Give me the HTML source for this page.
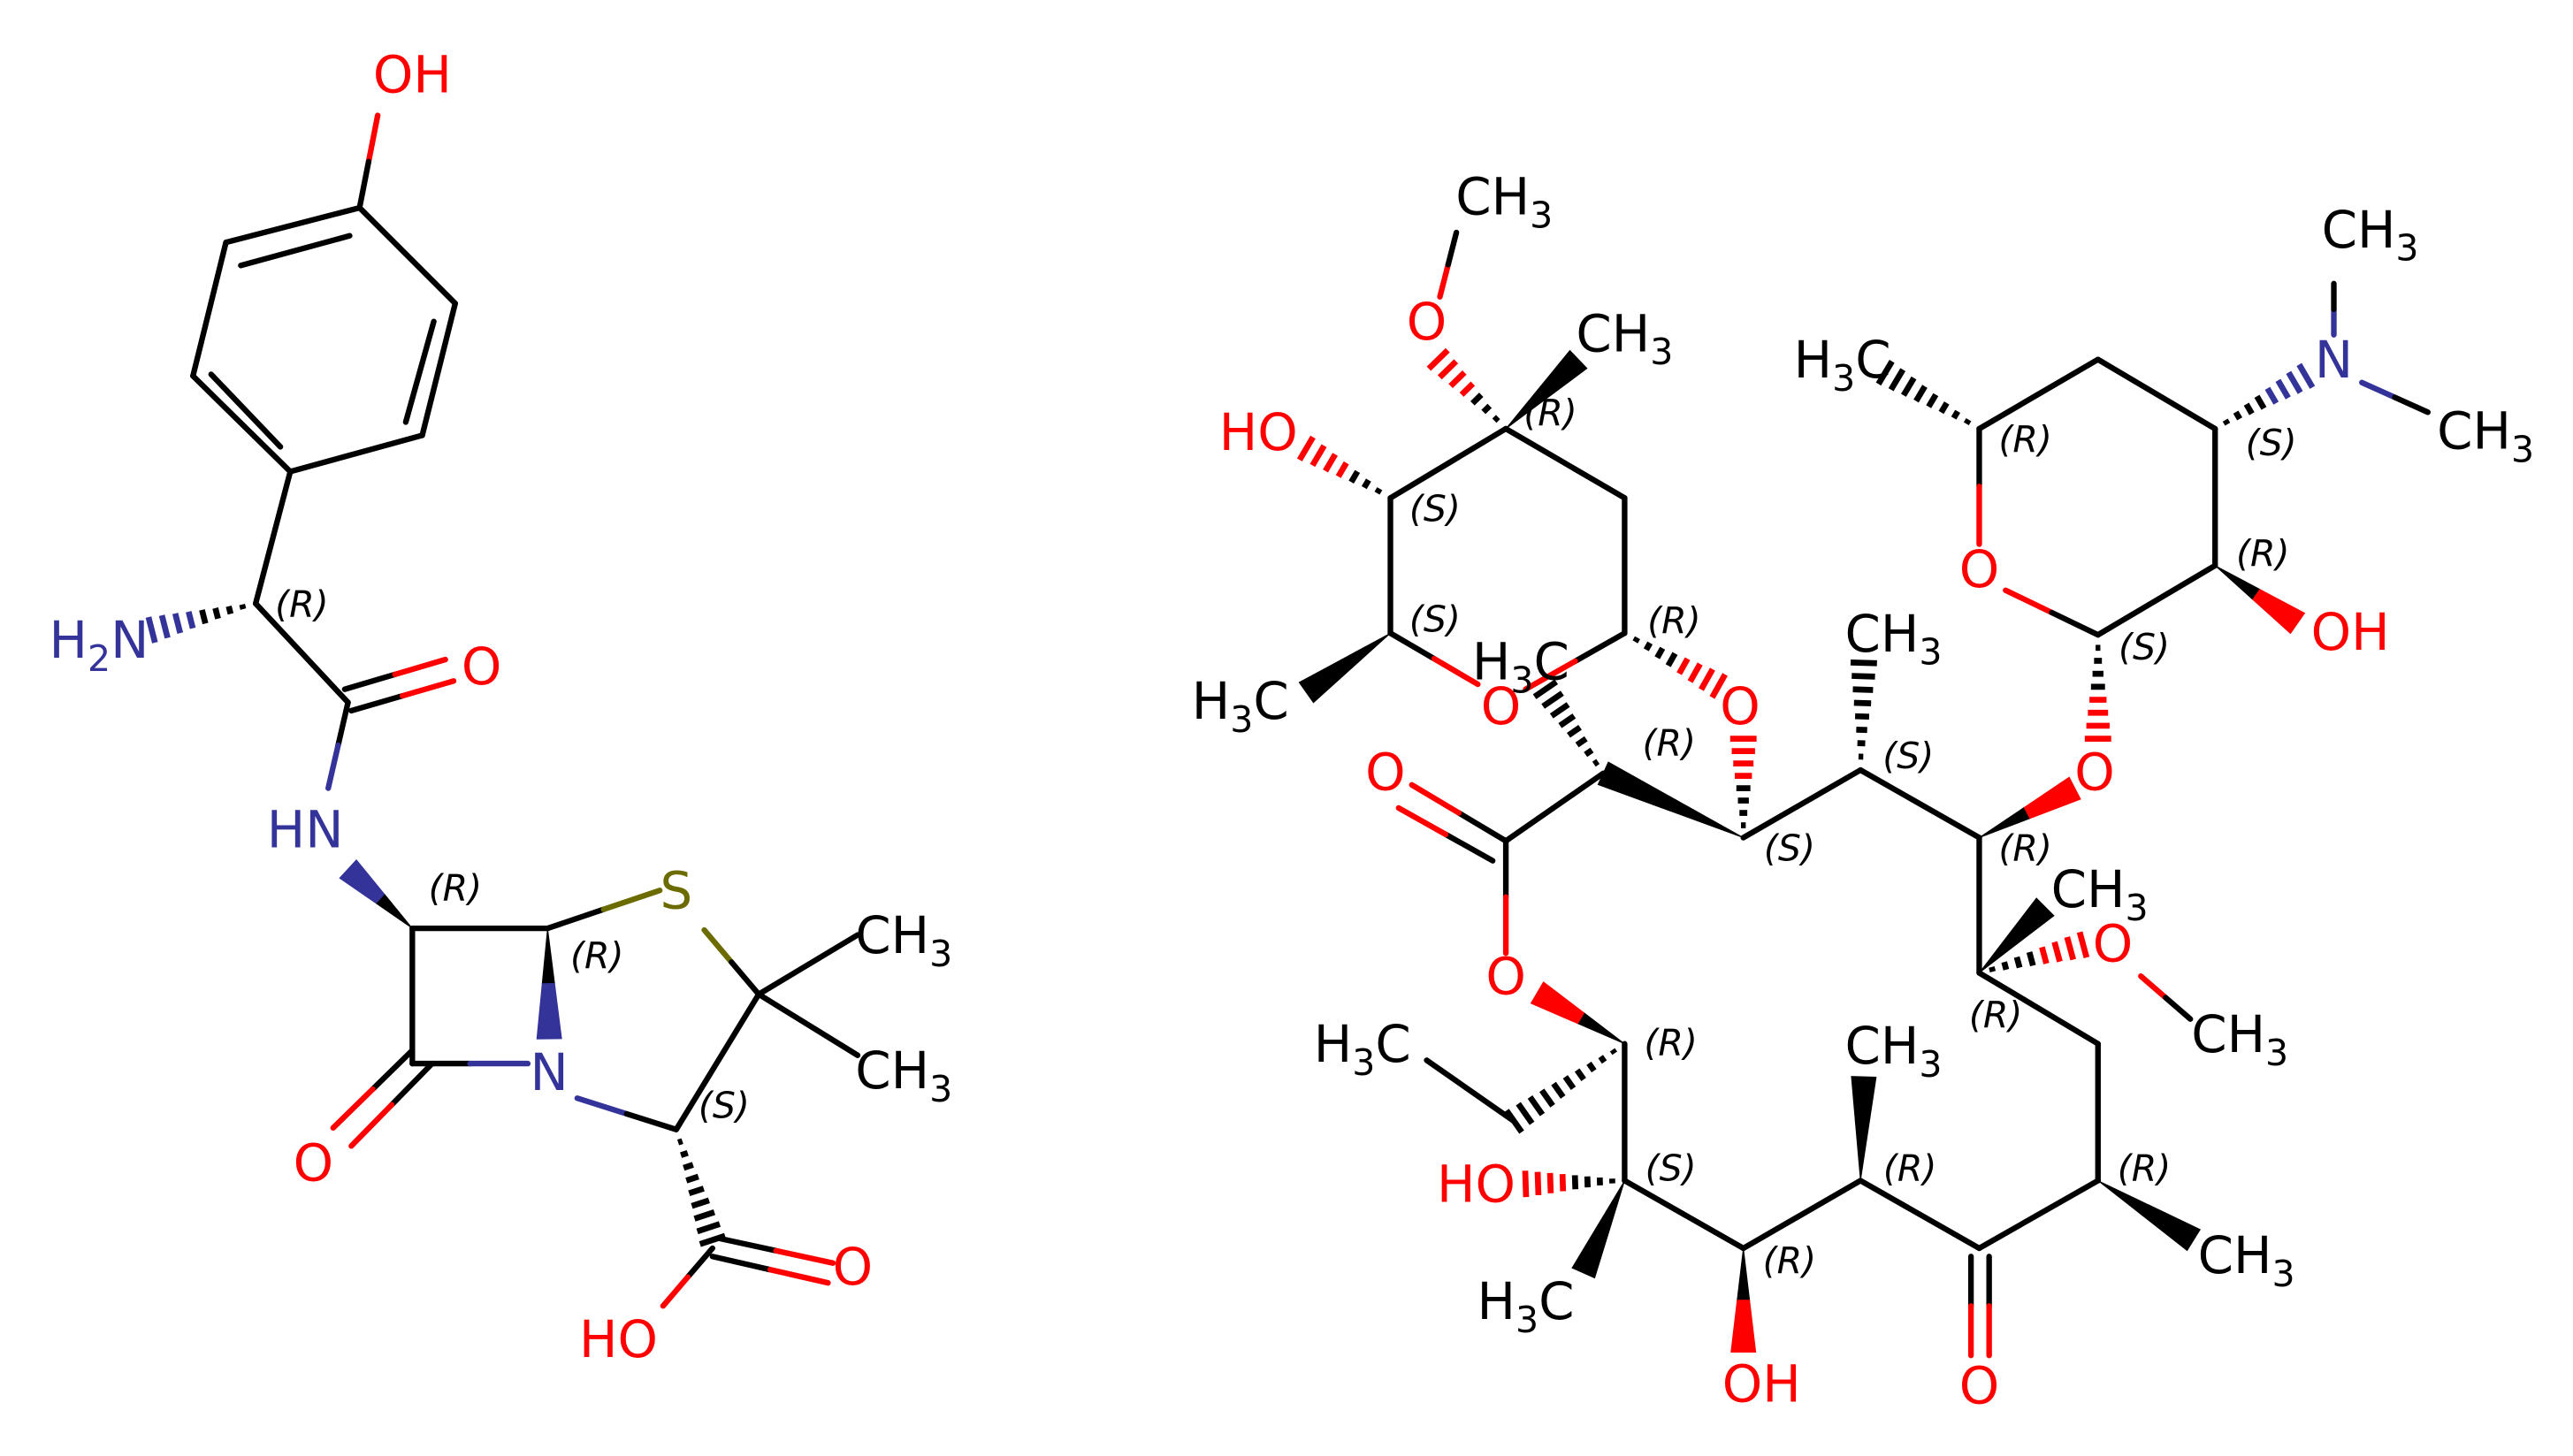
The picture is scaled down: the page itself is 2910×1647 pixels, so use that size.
<!DOCTYPE html>
<html><head><meta charset="utf-8"><style>
html,body{margin:0;padding:0;background:#fff;}
svg{display:block;}
text{font-family:"DejaVu Sans","Liberation Sans",sans-serif;}
.a{font-size:31px;text-anchor:middle;}
.s{font-size:22px;font-style:italic;text-anchor:middle;fill:#000;}
</style></head><body>
<svg id="m" width="2910" height="1647" viewBox="0 0 1560 883" preserveAspectRatio="none" xmlns="http://www.w3.org/2000/svg">
<g id="b" stroke-width="3.4" stroke-linecap="round" fill="none"></g>
<g id="w"></g>
<!-- left labels -->
<text class="a" x="250" y="56" fill="#f00">OH</text>
<text class="a" x="60" y="399" fill="#33339a">H<tspan font-size="22" dy="8">2</tspan><tspan dy="-8">N</tspan></text>
<text class="s" x="183" y="374">(R)</text>
<text class="a" x="292" y="415" fill="#f00">O</text>
<text class="a" x="185" y="514" fill="#33339a">HN</text>
<text class="s" x="276" y="546">(R)</text>
<text class="a" x="410" y="551" fill="#6b6b00">S</text>
<text class="s" x="362" y="587">(R)</text>
<text class="a" x="333" y="661" fill="#33339a">N</text>
<text class="a" x="190" y="716" fill="#f00">O</text>
<text class="a" x="548" y="578" fill="#000">CH<tspan font-size="22" dy="8">3</tspan></text>
<text class="a" x="548" y="660" fill="#000">CH<tspan font-size="22" dy="8">3</tspan></text>
<text class="s" x="439" y="678">(S)</text>
<text class="a" x="517" y="779" fill="#f00">O</text>
<text class="a" x="375" y="823" fill="#f00">HO</text>
<!-- right labels -->
<text class="a" x="912" y="130" fill="#000">CH<tspan font-size="22" dy="8">3</tspan></text>
<text class="a" x="865" y="206" fill="#f00">O</text>
<text class="a" x="985" y="213" fill="#000">CH<tspan font-size="22" dy="8">3</tspan></text>
<text class="s" x="940" y="258">(R)</text>
<text class="a" x="763" y="273" fill="#f00">HO</text>
<text class="s" x="870" y="316">(S)</text>
<text class="s" x="870" y="383">(S)</text>
<text class="s" x="1015" y="384">(R)</text>
<text class="a" x="752" y="436" fill="#000">H<tspan font-size="22" dy="8">3</tspan><tspan dy="-8">C</tspan></text>
<text class="a" x="910" y="439" fill="#f00">O</text>
<text class="a" x="922" y="412" fill="#000">H<tspan font-size="22" dy="8">3</tspan><tspan dy="-8">C</tspan></text>
<text class="a" x="1055" y="439" fill="#f00">O</text>
<text class="s" x="1012" y="458">(R)</text>
<text class="a" x="1148" y="395" fill="#000">CH<tspan font-size="22" dy="8">3</tspan></text>
<text class="s" x="1085" y="522">(S)</text>
<text class="s" x="1157" y="466">(S)</text>
<text class="a" x="840" y="479" fill="#f00">O</text>
<text class="a" x="1270" y="479" fill="#f00">O</text>
<text class="s" x="1228" y="522">(R)</text>
<text class="a" x="1273" y="550" fill="#000">CH<tspan font-size="22" dy="8">3</tspan></text>
<text class="a" x="1281" y="583" fill="#f00">O</text>
<text class="a" x="1358" y="638" fill="#000">CH<tspan font-size="22" dy="8">3</tspan></text>
<text class="s" x="1210" y="623">(R)</text>
<text class="a" x="913" y="603" fill="#f00">O</text>
<text class="a" x="826" y="644" fill="#000">H<tspan font-size="22" dy="8">3</tspan><tspan dy="-8">C</tspan></text>
<text class="s" x="1013" y="640">(R)</text>
<text class="a" x="1148" y="645" fill="#000">CH<tspan font-size="22" dy="8">3</tspan></text>
<text class="s" x="1013" y="716">(S)</text>
<text class="s" x="1158" y="716">(R)</text>
<text class="s" x="1300" y="716">(R)</text>
<text class="a" x="895" y="729" fill="#f00">HO</text>
<text class="a" x="925" y="800" fill="#000">H<tspan font-size="22" dy="8">3</tspan><tspan dy="-8">C</tspan></text>
<text class="s" x="1085" y="772">(R)</text>
<text class="a" x="1068" y="850" fill="#f00">OH</text>
<text class="a" x="1200" y="851" fill="#f00">O</text>
<text class="a" x="1362" y="772" fill="#000">CH<tspan font-size="22" dy="8">3</tspan></text>
<text class="a" x="1117" y="229" fill="#000">H<tspan font-size="22" dy="8">3</tspan><tspan dy="-8">C</tspan></text>
<text class="s" x="1228" y="274">(R)</text>
<text class="a" x="1200" y="356" fill="#f00">O</text>
<text class="s" x="1300" y="400">(S)</text>
<text class="s" x="1372" y="343">(R)</text>
<text class="s" x="1377" y="276">(S)</text>
<text class="a" x="1425" y="394" fill="#f00">OH</text>
<text class="a" x="1415" y="229" fill="#33339a">N</text>
<text class="a" x="1437" y="150" fill="#000">CH<tspan font-size="22" dy="8">3</tspan></text>
<text class="a" x="1507" y="272" fill="#000">CH<tspan font-size="22" dy="8">3</tspan></text>
</svg>
<script>
var K="#000",R="#f00",B="#33339a",S="#6b6b00";
var NS="http://www.w3.org/2000/svg";
var gb=document.getElementById("b"),gw=document.getElementById("w");
function ln(x1,y1,x2,y2,c1,c2){c2=c2||c1;
 if(c1==c2){add(gb,"line",{x1:x1,y1:y1,x2:x2,y2:y2,stroke:c1});return;}
 var mx=(x1+x2)/2,my=(y1+y2)/2;
 add(gb,"line",{x1:x1,y1:y1,x2:mx,y2:my,stroke:c1});
 add(gb,"line",{x1:mx,y1:my,x2:x2,y2:y2,stroke:c2});}
function add(g,t,a){var e=document.createElementNS(NS,t);for(var k in a)e.setAttribute(k,a[k]);g.appendChild(e);return e;}
function wd(x1,y1,x2,y2,c1,c2){c2=c2||c1;var dx=x2-x1,dy=y2-y1,L=Math.hypot(dx,dy),nx=-dy/L*7.5,ny=dx/L*7.5;
 var mx=(x1+x2)/2,my=(y1+y2)/2;
 add(gw,"polygon",{points:x1+","+y1+" "+(mx+nx/2)+","+(my+ny/2)+" "+(mx-nx/2)+","+(my-ny/2),fill:c1,stroke:c1,"stroke-width":0.5});
 add(gw,"polygon",{points:(mx+nx/2)+","+(my+ny/2)+" "+(x2+nx)+","+(y2+ny)+" "+(x2-nx)+","+(y2-ny)+" "+(mx-nx/2)+","+(my-ny/2),fill:c2,stroke:c2,"stroke-width":0.5});}
function hs(x1,y1,x2,y2,c1,c2){c2=c2||c1;var dx=x2-x1,dy=y2-y1,L=Math.hypot(dx,dy),n=Math.max(5,Math.round(L/8));
 for(var i=1;i<=n;i++){var t=i/n,px=x1+dx*t,py=y1+dy*t,h=7.5*t+0.5,nx=-dy/L*h,ny=dx/L*h;
 add(gw,"line",{x1:px+nx,y1:py+ny,x2:px-nx,y2:py-ny,stroke:t>0.5?c2:c1,"stroke-width":3.6});}}
// left molecule
ln(229,70,218,126,R,K);
ln(218,126,276,184,K);ln(276,184,256,264,K);ln(256,264,176,286,K);ln(176,286,117,228,K);ln(117,228,137,147,K);ln(137,147,218,126,K);
ln(263,195,246,256,K);ln(170,271,128,227,K);ln(146,161,212,143,K);
ln(176,286,155,366,K);
hs(155,366,92,382,K,B);
ln(155,366,211,426,K);
ln(209,418,270,400,K,R);ln(213,431,275,413,K,R);
ln(211,426,199,478,K,B);
wd(250,563,211,527,K,B);
ln(250,563,332,563,K);ln(250,563,250,645,K);ln(250,645,320,645,K,B);
wd(332,563,333,630,K,B);
ln(250,637,202,684,K,R);ln(262,645,213,695,K,R);
ln(332,563,400,540,K,S);
ln(427,564,460,603,S,K);
ln(460,603,520,567,K);ln(460,603,520,640,K);
ln(350,666,410,685,B,K);
ln(410,685,460,603,K);
hs(410,685,432,752,K);
ln(436,751,505,766,K,R);ln(432,762,502,778,K,R);
ln(432,757,402,792,K,R);
// cladinose
ln(913,260,985,302,K);ln(985,302,985,384,K);ln(985,384,925,418,K,R);ln(843,384,896,415,K,R);ln(843,384,843,302,K);ln(843,302,913,260,K);
hs(913,260,872,218,K,R);
ln(873,180,883,141,R,K);
wd(913,260,957,218,K);
hs(843,302,792,272,K,R);
wd(843,384,792,420,K);
hs(985,384,1042,416,K,R);
hs(1057,508,1057,448,K,R);
hs(972,469,937,418,K);
// macrocycle
wd(1057,508,972,469,K);
ln(913,510,972,469,K);
ln(913,510,856,476,K,R);ln(905,522,848,490,K,R);
ln(913,510,913,578,K,R);
wd(985,633,932,602,K,R);
hs(985,633,918,680,K);ln(918,680,865,643,K);
ln(985,633,985,716,K);
hs(985,716,925,718,K,R);
wd(985,716,960,772,K);
ln(985,716,1057,757,K);
wd(1057,757,1057,820,K,R);
ln(1057,757,1128,716,K);
wd(1128,716,1130,653,K);
ln(1128,716,1200,757,K);
ln(1195,762,1195,822,K,R);ln(1206,762,1206,822,K,R);
ln(1200,757,1272,716,K);
wd(1272,716,1330,752,K);
ln(1272,716,1272,633,K);ln(1272,633,1200,590,K);ln(1200,590,1200,508,K);
wd(1200,590,1240,550,K);
hs(1200,590,1263,573,K,R);
ln(1298,592,1328,618,R,K);
ln(1200,508,1128,467,K);ln(1128,467,1057,508,K);
hs(1128,467,1130,402,K);
wd(1200,508,1258,478,K,R);
// desosamine
hs(1272,385,1272,448,K,R);
ln(1272,385,1343,343,K);ln(1343,343,1343,260,K);ln(1343,260,1272,218,K);ln(1272,218,1200,260,K);ln(1200,260,1200,330,K,R);ln(1216,358,1272,385,R,K);
wd(1343,343,1393,378,K,R);
hs(1343,260,1398,228,K,B);
ln(1415,203,1415,172,B,K);ln(1432,232,1472,250,B,K);
hs(1200,260,1143,226,K);
</script>
</body></html>
